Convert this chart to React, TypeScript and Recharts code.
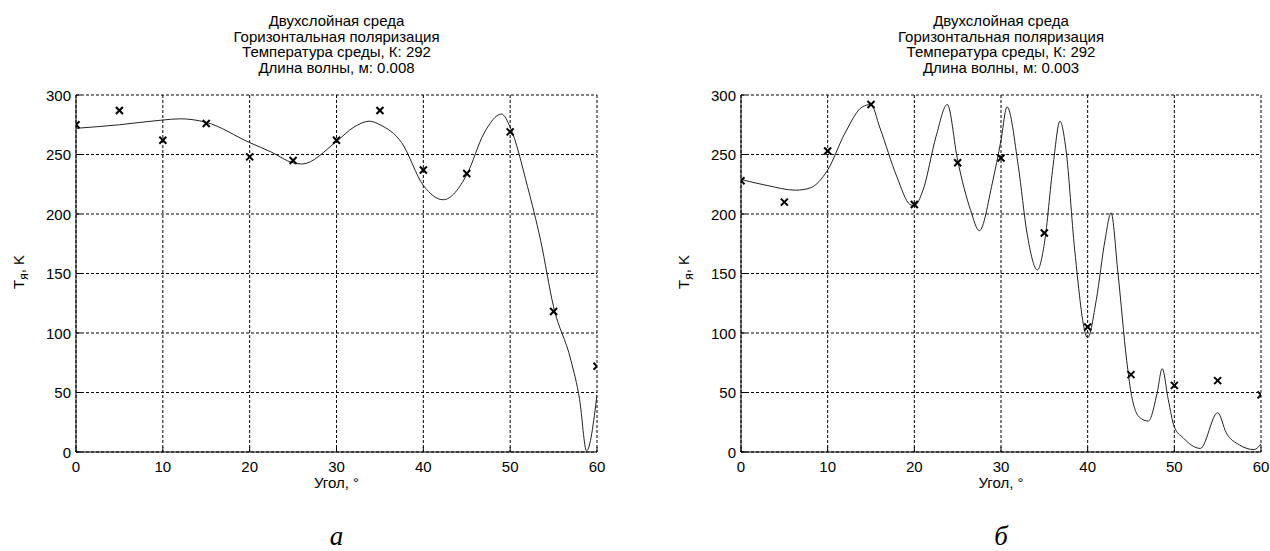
import { CartesianGrid, ComposedChart, Line, Scatter, XAxis, YAxis } from "recharts";

const markerAngles = [0, 5, 10, 15, 20, 25, 30, 35, 40, 45, 50, 55, 60];
const xTicks = [0, 10, 20, 30, 40, 50, 60];
const yTicks = [0, 50, 100, 150, 200, 250, 300];

// a: λ = 0.008 m
const leftMarkers = [275, 287, 262, 276, 248, 245, 262, 287, 237, 234, 269, 118, 72];
const leftCurveAngles = [0, 5, 10, 12, 15, 20, 22.5, 25, 26, 30, 32, 33.8, 35, 37.5, 40, 42.3, 45, 47, 49, 50, 52, 53.5, 55, 57, 58, 58.8, 60];
const leftCurveValues = [272, 275, 279, 280, 277, 260, 252, 243, 242, 261, 273, 278, 275, 260, 224, 212, 233, 268, 284, 273, 223, 178, 122, 77, 44, 1, 48];

// б: λ = 0.003 m
const rightMarkers = [228, 210, 253, 292, 208, 243, 247, 184, 105, 65, 56, 60, 48];
const rightCurveAngles = [0, 3, 6.3, 8, 10, 12, 14, 15, 16, 18, 19.5, 20, 21, 22.5, 23.8, 25, 26.5, 27.5, 29, 30, 30.7, 32, 33, 34.2, 35, 36, 36.8, 37.5, 38.5, 40, 41, 42, 42.7, 43.5, 44.5, 45, 46, 47, 48, 48.6, 49.3, 50, 51, 53, 55, 56, 57.5, 59.2, 60];
const rightCurveValues = [229, 224, 220, 222, 237, 268, 290, 292, 273, 231, 208, 207, 220, 265, 292, 245, 203, 186, 226, 262, 290, 240, 184, 153, 175, 240, 278, 254, 170, 96, 128, 178, 201, 150, 77, 50, 29, 26, 49, 70, 44, 21, 12, 3, 33, 16, 6, 2, 7];

const font = "'Liberation Sans', Arial, sans-serif";

const XTick = (props: any) => {
  const { x, y, payload } = props;
  return (
    <g>
      <line x1={x} x2={x} y1={y} y2={y - 5} stroke="#000" />
      <text x={x} y={y + 20} textAnchor="middle" fontSize={15} fontFamily={font} fill="#000">
        {payload.value}
      </text>
    </g>
  );
};

const YTick = (props: any) => {
  const { x, y, payload } = props;
  return (
    <g>
      <line x1={x} x2={x + 5} y1={y} y2={y} stroke="#000" />
      <text x={x - 5} y={y + 5.5} textAnchor="end" fontSize={15} fontFamily={font} fill="#000">
        {payload.value}
      </text>
    </g>
  );
};

const Cross = (props: any) => {
  const { cx, cy } = props;
  const s = 3.5;
  return (
    <g stroke="#000" strokeWidth={2}>
      <line x1={cx - s} y1={cy - s} x2={cx + s} y2={cy + s} />
      <line x1={cx - s} y1={cy + s} x2={cx + s} y2={cy - s} />
    </g>
  );
};

type PanelProps = {
  left: number;
  width: number;
  marginLeft: number;
  marginRight: number;
  wave: string;
  letter: string;
  markers: number[];
  curveAngles: number[];
  curveValues: number[];
};

function Panel({ left, width, marginLeft, marginRight, wave, letter, markers, curveAngles, curveValues }: PanelProps) {
  const curve = curveAngles.map((x, i) => ({ x, y: curveValues[i] }));
  const points = markerAngles.map((x, i) => ({ x, y: markers[i] }));
  const plotLeft = marginLeft + 40;
  const plotCenter = plotLeft + (width - plotLeft - marginRight) / 2;
  return (
    <div style={{ position: "absolute", left, top: 0, width, height: 551 }}>
      <div
        style={{
          position: "absolute", left: plotCenter - 160, top: 13, width: 320, textAlign: "center",
          fontFamily: font, fontSize: 15, lineHeight: "15.5px", color: "#000",
        }}
      >
        <div>Двухслойная среда</div>
        <div>Горизонтальная поляризация</div>
        <div>Температура среды, К: 292</div>
        <div>Длина волны, м: {wave}</div>
      </div>
      <div
        style={{
          position: "absolute", left: plotLeft - 57 - 40, top: 272 - 9, width: 80, height: 18,
          lineHeight: "18px", textAlign: "center",
          transform: "rotate(-90deg)", fontFamily: font, fontSize: 15, color: "#000", whiteSpace: "nowrap",
        }}
      >
        T<sub style={{ fontSize: 12, verticalAlign: "-4px" }}>я</sub>, K
      </div>
      <div
        style={{
          position: "absolute", left: plotCenter - 50, top: 476, width: 100, textAlign: "center",
          fontFamily: font, fontSize: 15, lineHeight: "14px", color: "#000",
        }}
      >
        Угол, °
      </div>
      <div
        style={{
          position: "absolute", left: plotCenter - 20, top: 522, width: 40, height: 28, textAlign: "center",
          fontFamily: "'Liberation Serif', 'Times New Roman', serif", fontStyle: "italic", fontSize: 27,
          lineHeight: "28px", color: "#000",
        }}
      >
        {letter}
      </div>
      <ComposedChart
        width={width}
        height={551}
        margin={{ top: 95, right: marginRight, bottom: 69, left: marginLeft }}
      >
        <CartesianGrid stroke="#000" strokeDasharray="3 2" />
        <XAxis
          dataKey="x" type="number" domain={[0, 60]} ticks={xTicks} allowDataOverflow
          height={30} tickSize={0} tickMargin={0} tick={<XTick />} axisLine={{ stroke: "#000" }}
        />
        <YAxis
          type="number" domain={[0, 300]} ticks={yTicks} allowDataOverflow
          width={40} tickSize={0} tickMargin={0} tick={<YTick />} axisLine={{ stroke: "#000" }}
        />
        <Line data={curve} dataKey="y" type="monotone" stroke="#222" strokeWidth={1} dot={false} isAnimationActive={false} />
        <Scatter data={points} dataKey="y" shape={<Cross />} isAnimationActive={false} />
      </ComposedChart>
    </div>
  );
}

export default function App() {
  return (
    <div style={{ position: "absolute", left: 0, top: 0, width: 1270, height: 551, background: "#fff", overflow: "hidden" }}>
      <Panel
        left={0} width={640} marginLeft={36} marginRight={43} wave="0.008" letter="а"
        markers={leftMarkers} curveAngles={leftCurveAngles} curveValues={leftCurveValues}
      />
      <Panel
        left={640} width={630} marginLeft={61} marginRight={9} wave="0.003" letter="б"
        markers={rightMarkers} curveAngles={rightCurveAngles} curveValues={rightCurveValues}
      />
    </div>
  );
}
